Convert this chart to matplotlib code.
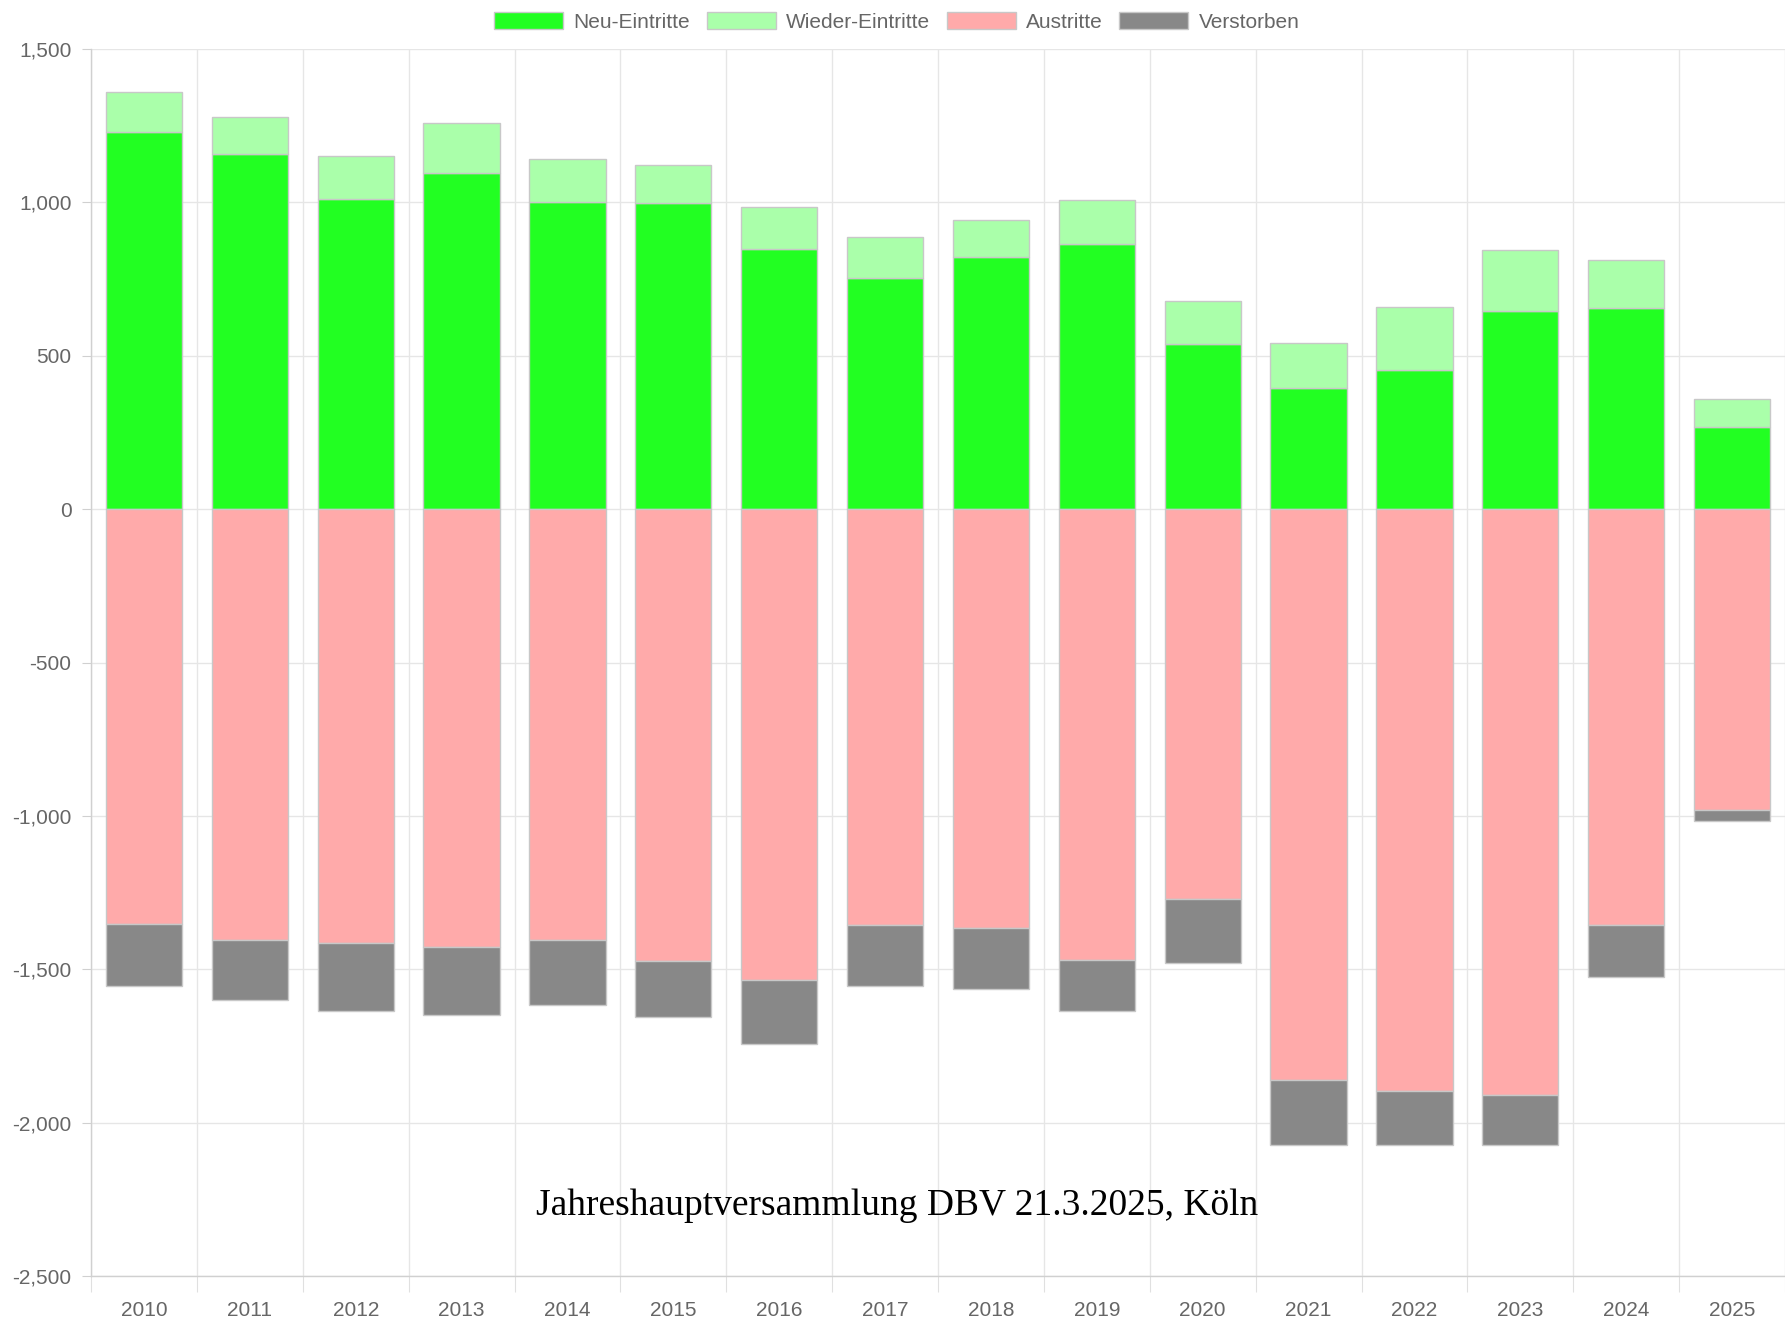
import matplotlib

matplotlib.use("Agg")
import matplotlib.pyplot as plt  # noqa: E402
import numpy as np  # noqa: E402
from matplotlib.patches import Patch  # noqa: E402
from matplotlib.ticker import FixedLocator, FuncFormatter  # noqa: E402

years = [str(y) for y in range(2010, 2026)]
neu_eintritte = [1230, 1158, 1010, 1095, 1000, 998, 847, 754, 821, 863, 538, 394, 455, 646, 657, 267]
wieder_eintritte = [131, 120, 140, 163, 143, 124, 139, 134, 120, 144, 140, 147, 203, 198, 155, 92]
austritte = [1353, 1405, 1415, 1426, 1405, 1473, 1534, 1357, 1366, 1469, 1270, 1860, 1896, 1910, 1356, 982]
verstorben = [203, 195, 220, 223, 212, 184, 210, 196, 197, 168, 209, 213, 177, 163, 169, 35]

series_labels = ["Neu-Eintritte", "Wieder-Eintritte", "Austritte", "Verstorben"]
series_colors = ["#22ff22", "#aaffaa", "#ffaaaa", "#888888"]

plt.rcParams["font.family"] = ["Liberation Sans", "DejaVu Sans"]

W, H, DPI = 1785, 1322, 100
fig = plt.figure(figsize=(W / DPI, H / DPI), dpi=DPI)
ax = fig.add_axes([91 / W, 1 - 1276 / H, (W - 91) / W, (1276 - 49) / H])

x = np.arange(len(years))
width = 0.72
edge = "#c8c8c8"
neu = np.array(neu_eintritte)
wie = np.array(wieder_eintritte)
aus = -np.array(austritte)
ver = -np.array(verstorben)

ax.bar(x, neu, width, color=series_colors[0], edgecolor=edge, linewidth=1.0, zorder=3)
ax.bar(x, wie, width, bottom=neu, color=series_colors[1], edgecolor=edge, linewidth=1.0, zorder=3)
ax.bar(x, aus, width, color=series_colors[2], edgecolor=edge, linewidth=1.0, zorder=3)
ax.bar(x, ver, width, bottom=aus, color=series_colors[3], edgecolor=edge, linewidth=1.0, zorder=3)

ax.set_xlim(-0.5, len(years) - 0.5)
ax.set_ylim(-2500, 1500)

# y axis
ax.set_yticks(np.arange(-2500, 1501, 500))
ax.yaxis.set_major_formatter(FuncFormatter(lambda v, _: f"{v:,.0f}"))
ax.tick_params(axis="y", length=6.5, width=0.8, color="#d0d0d0", labelsize=15,
               labelcolor="#666666", pad=7.5)
ax.grid(axis="y", color="#e6e6e6", linewidth=1.0, zorder=0)

# x axis: labels at centres, grid lines/ticks at category boundaries
ax.set_xticks(x)
ax.set_xticklabels(years)
ax.tick_params(axis="x", which="major", length=0, labelsize=15, labelcolor="#666666", pad=18)
ax.xaxis.set_minor_locator(FixedLocator(np.arange(-0.5, len(years), 1.0)))
ax.tick_params(axis="x", which="minor", length=11.5, width=0.8, color="#e0e0e0")
ax.grid(axis="x", which="minor", color="#e6e6e6", linewidth=1.0, zorder=0)

for side in ["top", "right"]:
    ax.spines[side].set_visible(False)
ax.spines["left"].set_color("#d0d0d0")
ax.spines["bottom"].set_color("#d0d0d0")
ax.spines["left"].set_linewidth(1.0)
ax.spines["bottom"].set_linewidth(1.0)

handles = [Patch(facecolor=c, edgecolor=edge, linewidth=1.0) for c in series_colors]
fig.legend(handles, series_labels, loc="center", bbox_to_anchor=(0.5025, 1 - 22 / H),
           ncol=4, frameon=False, fontsize=15, labelcolor="#666666",
           handlelength=3.3, handleheight=0.9, handletextpad=0.5, columnspacing=0.8)

fig.text(0.5025, 1 - 1206 / H, "Jahreshauptversammlung DBV 21.3.2025, Köln",
         ha="center", va="center", fontsize=27,
         family=["Liberation Serif", "DejaVu Serif"], color="black")

fig.savefig("out.png", dpi=DPI)
